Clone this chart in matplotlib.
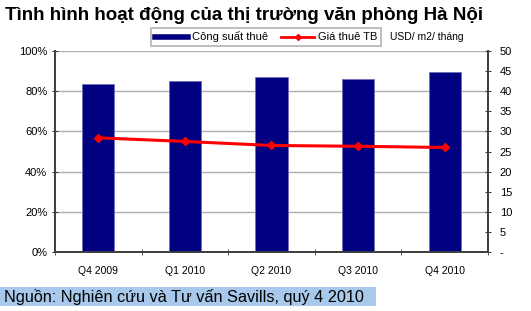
import matplotlib
matplotlib.use("Agg")
import matplotlib.pyplot as plt
from matplotlib.lines import Line2D
from matplotlib.patches import Rectangle

plt.rcParams['font.family'] = ['Liberation Sans', 'DejaVu Sans']

quarters = ["Q4 2009", "Q1 2010", "Q2 2010", "Q3 2010", "Q4 2010"]
occupancy = [83.5, 85.0, 87.0, 86.0, 89.5]   # % (left axis)
rent = [28.4, 27.5, 26.5, 26.3, 26.0]        # USD/m2/tháng (right axis)

fig = plt.figure(figsize=(5.31, 3.11), dpi=100)
W, H = 531, 311
ax = fig.add_axes([55 / W, 1 - 252 / H, 433 / W, 201 / H])
ax2 = ax.twinx()

x = list(range(len(quarters)))
ax.bar(x, occupancy, width=0.37, color="#000080", edgecolor="#7070b8", linewidth=0.6, zorder=3)
ax.set_ylim(0, 100)
ax.set_xlim(-0.5, len(quarters) - 0.5)
ax.set_yticks(range(0, 101, 20))
ax.set_yticklabels([f"{v}%" for v in range(0, 101, 20)], fontsize=8)
ax.yaxis.grid(True, color="#b0b0b0", linewidth=1, zorder=0)
ax.set_axisbelow(True)
ax.set_xticks(x)
ax.set_xticklabels(quarters, fontsize=7.5)
ax.set_xticks([i + 0.5 for i in range(-1, len(quarters))], minor=True)
ax.tick_params(axis="x", which="major", length=0, pad=10)
ax.tick_params(axis="x", which="minor", length=5, direction="inout", color="#404040")
ax.tick_params(axis="y", length=5, direction="inout", color="#404040", pad=3)

ax2.plot(x, rent, color="#ff0000", linewidth=2.2, marker="D", markersize=4.5, zorder=4)
ax2.set_ylim(0, 50)
ax2.set_yticks(range(0, 51, 5))
ax2.set_yticklabels(["-"] + [str(v) for v in range(5, 51, 5)], fontsize=8)
ax2.tick_params(axis="y", length=5, direction="inout", color="#404040", pad=6)

for a in (ax, ax2):
    a.spines["top"].set_visible(False)
    for side in ("left", "right", "bottom"):
        a.spines[side].set_color("#404040")
        a.spines[side].set_linewidth(1.3)

fig.text(5 / W, 1 - 15 / H, "Tình hình hoạt động của thị trường văn phòng Hà Nội",
         fontsize=13.5, fontweight="bold", va="center", ha="left")

handles = [Line2D([0], [0], color="#000080", linewidth=4),
           Line2D([0], [0], color="#ff0000", linewidth=2, marker="D", markersize=3)]
leg = fig.legend(handles, ["Công suất thuê", "Giá thuê TB"], loc="center",
                 bbox_to_anchor=(266 / W, 1 - 37 / H), ncol=2, fontsize=8,
                 frameon=True, fancybox=False, edgecolor="#a0a0a0",
                 handlelength=3.0, columnspacing=1.2, handletextpad=0.3,
                 borderpad=0.35, borderaxespad=0)
leg.get_frame().set_linewidth(1.2)

fig.text(390 / W, 1 - 37 / H, "USD/ m2/ tháng", fontsize=7.5, va="center", ha="left")

fig.patches.append(Rectangle((0, 1 - 306 / H), 376 / W, 19 / H, transform=fig.transFigure,
                             facecolor="#a8c8ec", edgecolor="none", zorder=0))
fig.text(4 / W, 1 - 297 / H, "Nguồn: Nghiên cứu và Tư vấn Savills, quý 4 2010",
         fontsize=11.7, va="center", ha="left")

fig.savefig("out.png", dpi=100)
